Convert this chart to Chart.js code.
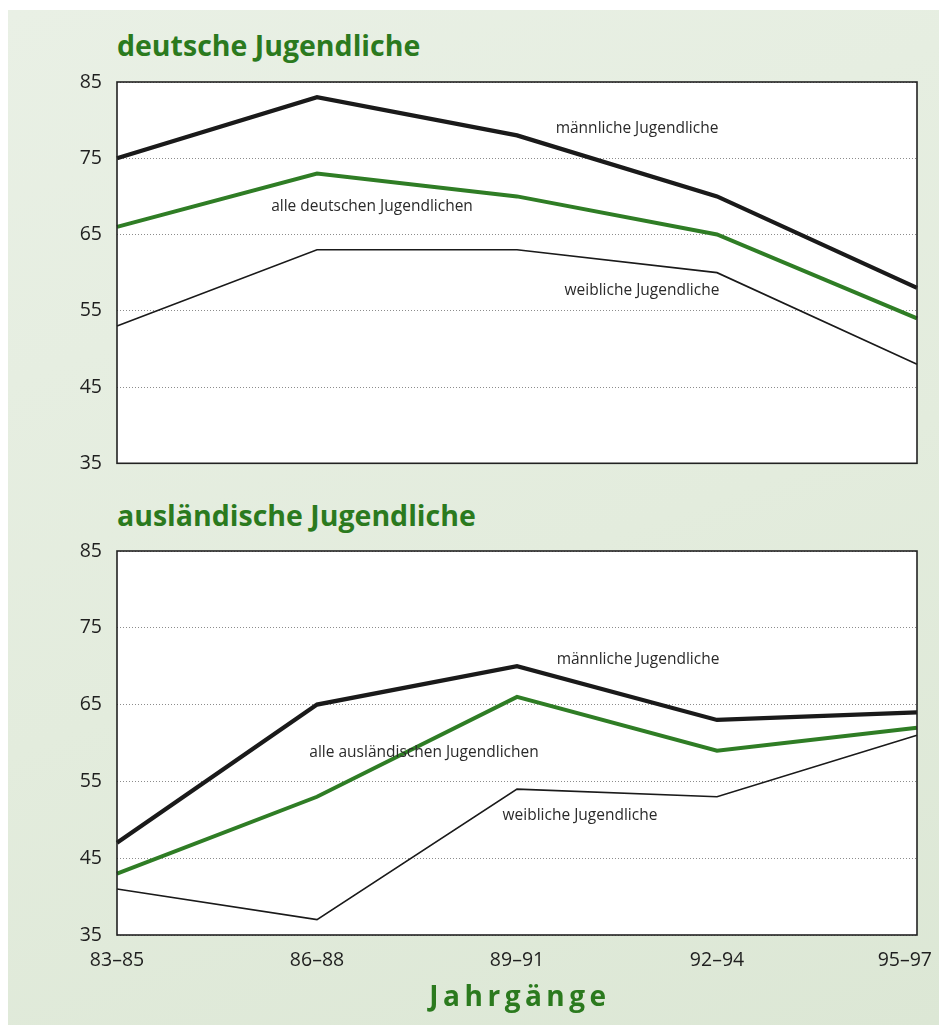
<!DOCTYPE html>
<html lang="de">
<head>
<meta charset="utf-8">
<title>Jahrgänge – deutsche und ausländische Jugendliche</title>
<script src="https://cdn.jsdelivr.net/npm/chart.js@4/dist/chart.umd.min.js"></script>
<style>
  html, body { margin: 0; padding: 0; background: #ffffff; }
  body { width: 939px; height: 1025px; position: relative; overflow: hidden; font-family: "Open Sans", sans-serif; }
  #panel {
    position: absolute; left: 8px; top: 10px; right: 0; bottom: 0;
    background: linear-gradient(160deg, #e9f0e5 0%, #e3ecdd 55%, #dce7d5 100%);
  }
  canvas { position: absolute; left: 0; }
  #cTop { top: 0; }
  #cBottom { top: 490px; }
  .heading {
    position: absolute; left: 117px; margin: 0;
    font-family: "Open Sans", sans-serif; font-weight: 700; font-size: 28.5px;
    color: #2b7a1e; line-height: 1; white-space: nowrap;
  }
  #hTop { top: 31px; }
  #hBottom { top: 501px; }
  #xTitle {
    position: absolute; left: 120px; width: 800px; top: 981px; margin: 0;
    text-align: center; font-family: "Open Sans", sans-serif; font-weight: 700;
    font-size: 28px; letter-spacing: 4.5px; color: #2b7a1e; line-height: 1;
  }
</style>
</head>
<body>
<div id="panel"></div>
<div class="heading" id="hTop">deutsche Jugendliche</div>
<div class="heading" id="hBottom">ausländische Jugendliche</div>
<canvas id="cTop" width="939" height="490"></canvas>
<canvas id="cBottom" width="939" height="535"></canvas>
<div id="xTitle">Jahrgänge</div>
<script>
// Birth cohorts on the x axis
const jahrgaenge = ['83–85', '86–88', '89–91', '92–94', '95–97'];
const yTicks = [35, 45, 55, 65, 75, 85];

// German youths (percent)
const deutschMaennlich = [75, 83, 78, 70, 58];
const deutschAlle      = [66, 73, 70, 65, 54];
const deutschWeiblich  = [53, 63, 63, 60, 48];

// Foreign youths (percent)
const auslMaennlich = [47, 65, 70, 63, 64];
const auslAlle      = [43, 53, 66, 59, 62];
const auslWeiblich  = [41, 37, 54, 53, 61];

// Series captions: text, position along the category axis, value axis position
const deutschCaptions = ['männliche Jugendliche', 'alle deutschen Jugendlichen', 'weibliche Jugendliche'];
const deutschCaptionX = [2.6, 1.275, 2.625];
const deutschCaptionY = [78.9, 68.7, 57.7];
const auslCaptions = ['männliche Jugendliche', 'alle ausländischen Jugendlichen', 'weibliche Jugendliche'];
const auslCaptionX = [2.605, 1.535, 2.315];
const auslCaptionY = [70.8, 58.8, 50.6];

const GREEN = '#2f7d25';
const INK = '#1a1a1a';
const FONT = '"Open Sans", sans-serif';

// White plot area behind the lines; keep the last cohort label inside the page
const plotBackground = {
  id: 'plotBackground',
  beforeDraw(chart) {
    const { ctx, chartArea: a } = chart;
    ctx.save();
    ctx.fillStyle = '#ffffff';
    ctx.fillRect(a.left, a.top, a.right - a.left, a.bottom - a.top);
    ctx.restore();
    const x = chart.scales.x;
    if (x.options.display) {
      const items = x.getLabelItems();
      const last = items[items.length - 1];
      if (last) {
        last.options.textAlign = 'right';
        last.options.translation[0] = a.right + 15;
      }
    }
  }
};

// Black frame round the plot area
const plotFrame = {
  id: 'plotFrame',
  afterDraw(chart) {
    const { ctx, chartArea: a } = chart;
    ctx.save();
    ctx.strokeStyle = '#222222';
    ctx.lineWidth = 1.6;
    ctx.strokeRect(a.left, a.top, a.right - a.left, a.bottom - a.top);
    ctx.restore();
  }
};

// Captions placed in data coordinates
const seriesCaptions = {
  id: 'seriesCaptions',
  afterDatasetsDraw(chart, args, opts) {
    const { ctx, scales: { x, y } } = chart;
    ctx.save();
    ctx.font = '15.5px ' + FONT;
    ctx.fillStyle = '#2a2a2a';
    ctx.textAlign = 'center';
    ctx.textBaseline = 'middle';
    opts.texts.forEach((t, i) => {
      ctx.fillText(t, x.getPixelForValue(opts.xs[i]), y.getPixelForValue(opts.ys[i]));
    });
    ctx.restore();
  }
};

function lineSet(label, data, color, width) {
  return {
    label, data,
    borderColor: color, backgroundColor: color,
    borderWidth: width, pointRadius: 0, tension: 0,
    borderJoinStyle: 'miter', borderCapStyle: 'butt', fill: false
  };
}

function makeChart(id, series, captions, showX, padTop, padBottom) {
  const xScale = {
    display: showX,
    offset: false,
    grid: { display: false, drawTicks: false },
    border: { display: false },
    ticks: {
      padding: 14, maxRotation: 0, autoSkip: false,
      color: '#1f1f1f', font: { family: FONT, size: 19.5 }
    }
  };
  if (showX) {
    xScale.afterFit = (scale) => {
      scale.height = 90;
      scale.paddingLeft = 0;
      scale.paddingRight = 0;
    };
  }
  return new Chart(document.getElementById(id), {
    type: 'line',
    data: {
      labels: jahrgaenge,
      datasets: [
        lineSet('weibliche Jugendliche', series[2], INK, 1.6),
        lineSet('alle', series[1], GREEN, 4),
        lineSet('männliche Jugendliche', series[0], INK, 4.2)
      ]
    },
    options: {
      responsive: false,
      animation: false,
      layout: { autoPadding: false, padding: { top: padTop, right: 22, bottom: padBottom, left: 0 } },
      plugins: {
        legend: { display: false },
        tooltip: { enabled: false },
        title: { display: false },
        seriesCaptions: captions
      },
      scales: {
        x: xScale,
        y: {
          min: 35, max: 85,
          afterBuildTicks(scale) { scale.ticks = yTicks.map(v => ({ value: v })); },
          grid: { color: '#8c8c8c', lineWidth: 1, drawTicks: false },
          border: { display: false, dash: [1, 2] },
          ticks: { padding: 15, color: '#1f1f1f', font: { family: FONT, size: 19.5 } },
          afterFit(scale) { scale.width = 117; }
        }
      }
    },
    plugins: [plotBackground, seriesCaptions, plotFrame]
  });
}

makeChart('cTop',
  [deutschMaennlich, deutschAlle, deutschWeiblich],
  { texts: deutschCaptions, xs: deutschCaptionX, ys: deutschCaptionY },
  false, 82, 21);

makeChart('cBottom',
  [auslMaennlich, auslAlle, auslWeiblich],
  { texts: auslCaptions, xs: auslCaptionX, ys: auslCaptionY },
  true, 61, 0);
</script>
</body>
</html>
